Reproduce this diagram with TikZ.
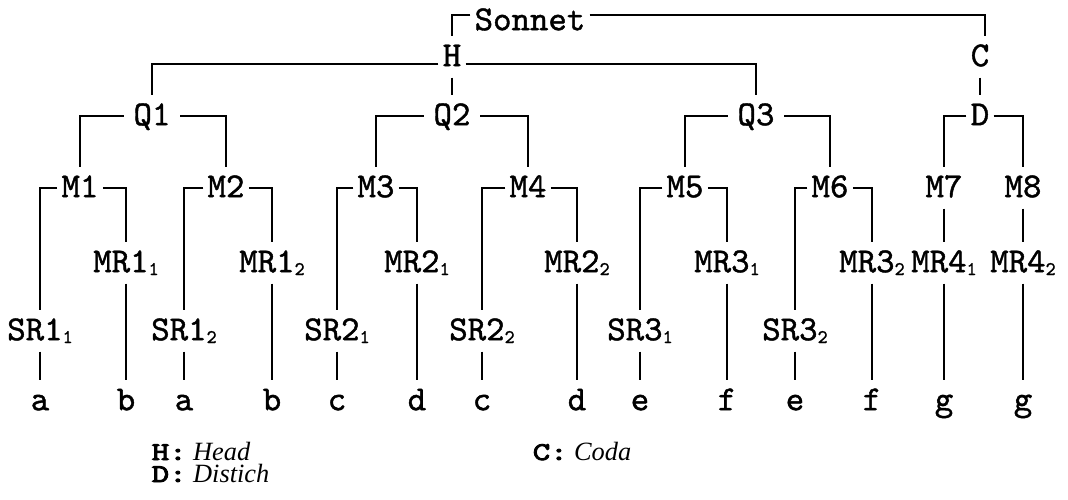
\documentclass[tikz,border=0pt]{standalone}
\usepackage{fontspec}
\newfontfamily\legfont{Liberation Serif}
\newfontfamily\cour{lmmono10-regular.otf}[FakeBold=1.2]
\newfontfamily\courbold{lmmono10-regular.otf}[FakeBold=3.5,FakeStretch=1.3]
\newcommand{\ix}[1]{\raisebox{-1.6pt}{\fontsize{11}{11}\selectfont #1}}
\newcommand{\keyl}[1]{{\fontsize{14.5}{14.5}\selectfont\courbold #1}}

\begin{document}
\begin{tikzpicture}[x=0.02cm,y=-0.02cm,line width=0.9pt,
  every node/.style={font=\fontsize{20}{20}\selectfont\cour,text height=12.5pt,text depth=2pt,inner xsep=2pt,inner ysep=4pt},
  quat/.style={inner xsep=5pt},
  legend/.style={anchor=base west,inner sep=0pt,text height=11pt,text depth=0pt,font=\fontsize{15}{18}\selectfont\legfont\itshape}]
\useasboundingbox (0,0) rectangle (1068,500);

\node (sonnet) at (530,21) {Sonnet};
\node (head) at (452,57) {H};
\node (coda) at (980,57) {C};

\node[quat] (q1) at (152,116) {Q1};
\node[quat] (q2) at (452,116) {Q2};
\node[quat] (q3) at (756,116) {Q3};
\node (dist) at (980,116) {D};

\node (m1) at (80,188) {M1};
\node (m2) at (226,188) {M2};
\node (m3) at (376,188) {M3};
\node (m4) at (528,188) {M4};
\node (m5) at (685,188) {M5};
\node (m6) at (830,188) {M6};
\node (m7) at (944,188) {M7};
\node (m8) at (1023,188) {M8};

\node (mr11) at (126,263) {MR1\ix{1}};
\node (mr12) at (272,263) {MR1\ix{2}};
\node (mr21) at (417,263) {MR2\ix{1}};
\node (mr22) at (577,263) {MR2\ix{2}};
\node (mr31) at (727,263) {MR3\ix{1}};
\node (mr32) at (872,263) {MR3\ix{2}};
\node (mr41) at (944,263) {MR4\ix{1}};
\node (mr42) at (1023,263) {MR4\ix{2}};

\node (sr11) at (40,331) {SR1\ix{1}};
\node (sr12) at (184,331) {SR1\ix{2}};
\node (sr21) at (337,331) {SR2\ix{1}};
\node (sr22) at (482,331) {SR2\ix{2}};
\node (sr31) at (640,331) {SR3\ix{1}};
\node (sr32) at (795,331) {SR3\ix{2}};

\node (la1) at (40,401) {a};
\node (lb1) at (126,401) {b};
\node (la2) at (184,401) {a};
\node (lb2) at (272,401) {b};
\node (lc1) at (337,401) {c};
\node (ld1) at (417,401) {d};
\node (lc2) at (482,401) {c};
\node (ld2) at (577,401) {d};
\node (le1) at (640,401) {e};
\node (lf1) at (727,401) {f};
\node (le2) at (795,401) {e};
\node (lf2) at (872,401) {f};
\node (lg1) at (944,401) {g};
\node (lg2) at (1023,401) {g};

\draw ([yshift=3.5pt]sonnet.west) -| (head);
\draw ([yshift=3.5pt]sonnet.east) -| ([xshift=3pt]coda.north);
\draw ([yshift=-4pt]head.west) -| (q1);
\draw ([yshift=-4pt]head.east) -| (q3);
\draw (head) -- (q2);
\draw (coda) -- (dist);

\draw (q1) -| (m1);
\draw (q1) -| (m2);
\draw (q2) -| (m3);
\draw (q2) -| (m4);
\draw (q3) -| (m5);
\draw (q3) -| (m6);
\draw (dist) -| (m7);
\draw (dist) -| (m8);

\draw (m1) -| (sr11);
\draw (m1) -| (mr11);
\draw (m2) -| (sr12);
\draw (m2) -| (mr12);
\draw (m3) -| (sr21);
\draw (m3) -| (mr21);
\draw (m4) -| (sr22);
\draw (m4) -| (mr22);
\draw (m5) -| (sr31);
\draw (m5) -| (mr31);
\draw (m6) -| (sr32);
\draw (m6) -| (mr32);
\draw (m7) -- (mr41);
\draw (m8) -- (mr42);

\draw (sr11) -- (la1);
\draw (mr11) -- (lb1);
\draw (sr12) -- (la2);
\draw (mr12) -- (lb2);
\draw (sr21) -- (lc1);
\draw (mr21) -- (ld1);
\draw (sr22) -- (lc2);
\draw (mr22) -- (ld2);
\draw (sr31) -- (le1);
\draw (mr31) -- (lf1);
\draw (sr32) -- (le2);
\draw (mr32) -- (lf2);
\draw (mr41) -- (lg1);
\draw (mr42) -- (lg2);

\node[legend] (keyh) at (151,460) {\keyl{H:}\ Head};
\node[legend] (keyd) at (151,482) {\keyl{D:}\ Distich};
\node[legend] (keyc) at (532,460) {\keyl{C:}\ Coda};
\end{tikzpicture}
\end{document}
